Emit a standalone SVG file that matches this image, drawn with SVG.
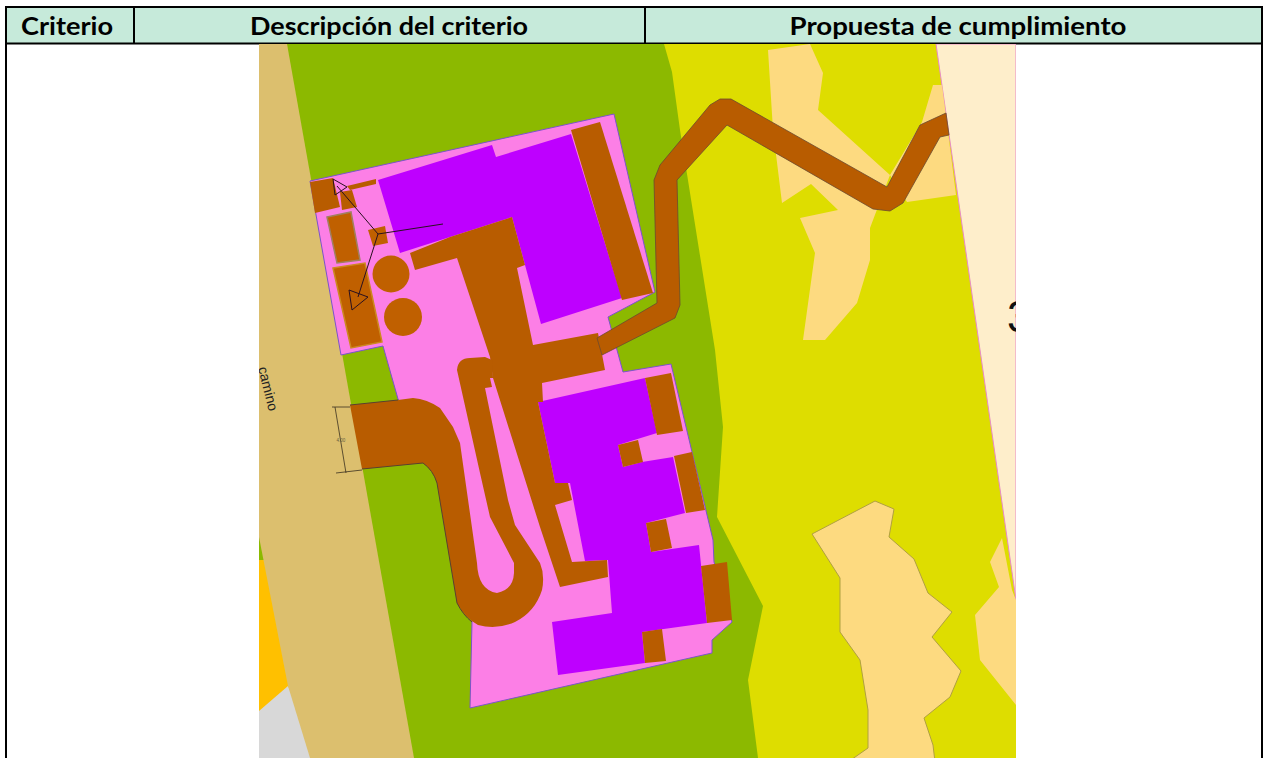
<svg xmlns="http://www.w3.org/2000/svg" width="1268" height="758" viewBox="0 0 1268 758">
<style>
.hd{font-family:"Lato","Liberation Sans",sans-serif;font-weight:700;font-size:25px;fill:#000;text-anchor:middle}
.b{fill:#b85c00}
.bs{fill:#b85c00;stroke:#6b4a30;stroke-width:.8}
.edge{fill:none;stroke:#5a4030;stroke-width:1}
.p{fill:#be00ff}
.s{fill:#fdda80}
.ss{fill:#fdda80;stroke:#b0a040;stroke-width:1}
.ln{fill:none;stroke:#2a1020;stroke-width:1}
</style>
<defs><clipPath id="img"><rect x="259" y="44" width="757" height="714"/></clipPath></defs>
<rect width="1268" height="758" fill="#fff"/>
<g id="table-header">
<rect x="6" y="7" width="1256" height="36" fill="#c6eada"/>
<path d="M6 7H1262M6 43.500H1262M134 7V43M645 7V43M6 6V758M1262 6V758" fill="none" stroke="#000" stroke-width="2"/>
<text class="hd" x="67" y="34.500" textLength="92" lengthAdjust="spacingAndGlyphs">Criterio</text>
<text class="hd" x="389" y="34.500" textLength="278" lengthAdjust="spacingAndGlyphs">Descripción del criterio</text>
<text class="hd" x="958" y="34.500" textLength="337" lengthAdjust="spacingAndGlyphs">Propuesta de cumplimiento</text>
</g>
<g id="plan" clip-path="url(#img)">
<rect x="259" y="44" width="757" height="714" fill="#dedd00"/>
<path d="M287 44H664L672 72L680 130L715 350L723 427L717 517L763 606L748 680L758 758H320Z" fill="#8cb900"/>
<path d="M259 530L270 560H259Z" fill="#8cb900"/>
<path d="M259 560H300V690L259 711Z" fill="#ffc000"/>
<path d="M259 711L288 686L320 758H259Z" fill="#d8d8d8"/>
<path d="M259 44H287L414 758H310L288 686L259 537Z" fill="#dcbf6e"/>
<path d="M936 44H1016V600Z" fill="#feeecb" stroke="#e88ac8" stroke-width="1"/>
<path class="s" d="M768 50L810 44L823 73L818 110L890 175L870 228V260L857 303L825 340H803L815 253L800 218L838 210L811 184L782 203L773 130Z"/>
<path class="s" d="M933 85L942 85L956 195L907 202L890 175L922 122Z"/>
<path class="ss" d="M812 534L875 501L894 509L889 537L914 559L928 593L952 612L932 637L961 671L950 697L924 718L933 745L935 762H848L868 748L868 710L860 660L840 632V578Z"/>
<path class="s" d="M1002 538L990 562L999 587L975 615L980 660L1016 705V600L1012 590Z"/>
<path d="M310 181L614 114L655 292L608 317L623 372L671 364L713 540L714 562L732 622L712 640V653L470 708L472 622L468 590L450 490L430 440L398 399L383 346L341 355Z" fill="#fc7fe6" stroke="#7a55c8" stroke-width="1"/>
<g id="buildings">
<path class="p" d="M378 180L492 145L496 157L571 134L622 298L541 324L525 265L512 217L450 237L400 253Z"/>
<path class="p" d="M538 402L645 378L657 433L618 445L623 467L642 462L673 457L685 513L646 523L651 552L699 545L707 623L642 632L645 663L558 675L552 622L612 613L608 560L585 561L570 483L555 483Z"/>
</g>
<g id="paved">
<path class="b" d="M571 130L600 122L653 293L622 300Z"/>
<path class="b" d="M410 253L450 237L512 217L525 265L517 268L533 345L598 333L605 370L542 383L543 402L538 402L555 483H568L572 500L555 505L572 562L607 560L608 577L560 587L540 527L493 378L490 357L457 258L415 270Z"/>
<path class="b" d="M350 405L398 400L413 398Q427 399 440 408L453 427L460 443L477 563Q478 590 497 593Q513 590 514 573V563L490 517L480 473L457 370Q458 358 470 358L485 357L492 360L493 378L490 378L492 387L485 388L508 500L515 525L540 563Q545 575 542 590Q535 612 515 622Q497 630 478 625Q465 618 457 603L437 483Q433 470 423 463L362 469Z"/>
<path class="edge" d="M350 405L398 400M362 469L423 463Q433 470 437 483L457 603Q463 615 472 622"/>
<path class="bs" d="M597 338L657 303L654 180L660 165L710 105L720 99H731L887 187L920 125L946 113L949 135L940 137L903 203L890 211L873 209L727 125L677 180L680 305L675 318L602 355Z"/>
<path class="b" d="M645 378L671 373L683 431L657 435Z"/>
<path class="b" d="M618 445L638 440L643 462L623 467Z"/>
<path class="b" d="M674 456L692 452L705 510L686 513Z"/>
<path class="b" d="M646 523L666 519L672 548L651 552Z"/>
<path class="b" d="M701 566L727 562L732 620L707 623Z"/>
<path class="b" d="M642 632L662 629L666 661L645 663Z"/>
</g>
<g id="tanks">
<path class="b" d="M310 182L333 178L340 207L315 213Z"/>
<path class="b" d="M340 192L352 190L357 207L342 210Z"/>
<path class="b" d="M347 186L376 179V184L350 190Z"/>
<path d="M327 217L351 212L360 260L337 263Z" fill="#c06000" stroke="#a08060" stroke-width="1.500"/>
<path d="M333 268L365 263L382 342L351 348Z" fill="#c06000" stroke="#cc8a20" stroke-width="1.500"/>
<path d="M368 230L385 226L388 243L373 246Z" fill="#c06000"/>
<circle cx="391" cy="274" r="18.500" fill="#c06000"/>
<circle cx="403" cy="317" r="19" fill="#c06000"/>
</g>
<g id="lines">
<path class="ln" d="M337 186L378 234L443 224M378 234L358 297"/>
<path class="ln" d="M333 179L347 187L335 195Z"/>
<path class="ln" d="M349 290L368 297L352 310Z"/>
</g>
<g id="dimension">
<path d="M332 407H350M335 407L346 473M336 473L362 470" fill="none" stroke="#3a3020" stroke-width=".8"/>
<text x="341" y="442" font-family="Liberation Sans, sans-serif" font-size="4.500" fill="#6a6040" text-anchor="middle">4.00</text>
</g>
<text x="258" y="368" transform="rotate(76 258 368)" font-family="Liberation Sans, sans-serif" font-size="14" fill="#222">camino</text>
<text x="1007" y="332" font-family="Liberation Sans, sans-serif" font-size="44" fill="#111">3</text>
</g>
</svg>
